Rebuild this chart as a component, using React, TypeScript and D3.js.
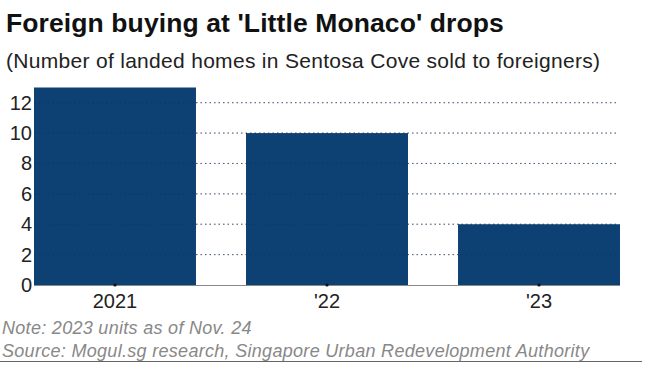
import React from "react";
import * as d3 from "d3";

const categories = ["2021", "'22", "'23"];
const values = [13, 10, 4];
const yTicks = [0, 2, 4, 6, 8, 10, 12];

const title = "Foreign buying at 'Little Monaco' drops";
const subtitle = "(Number of landed homes in Sentosa Cove sold to foreigners)";
const note = "Note: 2023 units as of Nov. 24";
const source = "Source: Mogul.sg research, Singapore Urban Redevelopment Authority";

export default function App() {
  const W = 650, H = 383;
  const left = 34, right = 620, top = 87.5, bottom = 285;
  const x = d3.scaleBand<string>().domain(categories).range([left, right]).paddingInner(0.236).paddingOuter(0);
  const y = d3.scaleLinear().domain([0, 13]).range([bottom, top]);
  const font = "'Liberation Sans', Arial, sans-serif";
  return (
    <svg width={W} height={H} style={{ position: "absolute", left: 0, top: 0, background: "#fff" }} fontFamily={font}>
      <text x={6} y={32} fontSize={26.5} fontWeight="bold" letterSpacing={0.1} fill="#111">{title}</text>
      <text x={6} y={68} fontSize={21} letterSpacing={0.3} fill="#222">{subtitle}</text>
      {yTicks.filter(t => t > 0).map(t => (
        <line key={t} x1={left} x2={617} y1={y(t)} y2={y(t)} stroke="#aaa" strokeWidth={1} strokeDasharray="1.5,3" />
      ))}
      {categories.map((c, i) => (
        <rect key={c} x={x(c)} y={y(values[i])} width={x.bandwidth()} height={bottom - y(values[i])} fill="#0d4073" />
      ))}
      {yTicks.filter(t => t > 0).map(t => (
        <line key={"g" + t} x1={left} x2={617} y1={y(t)} y2={y(t)} stroke="#0a3460" strokeOpacity={0.6} strokeWidth={1} strokeDasharray="1.5,3" />
      ))}
      <line x1={left} x2={right} y1={bottom + 0.5} y2={bottom + 0.5} stroke="#888" strokeWidth={1} />
      {categories.map(c => (
        <circle key={"d" + c} cx={(x(c) as number) + x.bandwidth() / 2} cy={bottom} r={1.6} fill="#111" />
      ))}
      {yTicks.map(t => (
        <text key={"l" + t} x={32} y={y(t) + 7} fontSize={20} textAnchor="end" fill="#222">{t}</text>
      ))}
      {categories.map(c => (
        <text key={"x" + c} x={(x(c) as number) + x.bandwidth() / 2} y={308} fontSize={20} textAnchor="middle" fill="#222">{c}</text>
      ))}
      <text x={2} y={334} fontSize={18} letterSpacing={0.3} fontStyle="italic" fill="#888">{note}</text>
      <text x={2} y={357} fontSize={18} letterSpacing={0.3} fontStyle="italic" fill="#888">{source}</text>
      <line x1={0} x2={642} y1={361.5} y2={361.5} stroke="#666" strokeWidth={1} />
    </svg>
  );
}
